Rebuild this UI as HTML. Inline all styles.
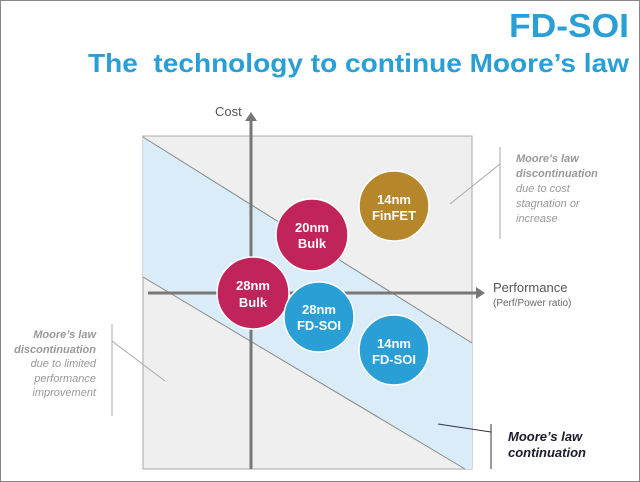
<!DOCTYPE html>
<html><head><meta charset="utf-8"><style>
html,body{margin:0;padding:0;background:#fff}
svg{display:block}
</style></head><body>
<svg width="640" height="482" viewBox="0 0 640 482" xmlns="http://www.w3.org/2000/svg" font-family="Liberation Sans, Arial, sans-serif">
<rect x="0.5" y="0.5" width="639" height="481" fill="#fff" stroke="#888" stroke-width="1"/>
<text x="629" y="37" text-anchor="end" font-size="33" font-weight="bold" fill="#2a9fd6" textLength="120" lengthAdjust="spacingAndGlyphs">FD-SOI</text>
<text x="88" y="72" font-size="26" font-weight="bold" fill="#2a9fd6" textLength="541" lengthAdjust="spacingAndGlyphs" xml:space="preserve">The  technology to continue Moore’s law</text>

<rect x="143" y="136" width="329" height="333" fill="#efefef" stroke="#aaa" stroke-width="1"/>
<polygon points="143,137 472,343 472,469 465,469 143,277" fill="#d9ecf8"/>
<line x1="143" y1="137" x2="472" y2="343" stroke="#888" stroke-width="1"/>
<line x1="143" y1="277" x2="465" y2="469" stroke="#888" stroke-width="1"/>

<line x1="251" y1="120" x2="251" y2="469" stroke="#777" stroke-width="3"/>
<polygon points="245,121 257,121 251,112" fill="#777"/>
<line x1="148" y1="293" x2="476" y2="293" stroke="#777" stroke-width="3"/>
<polygon points="476,287 476,299 485,293" fill="#777"/>
<text x="215" y="116" font-size="13" fill="#555">Cost</text>
<text x="493" y="292" font-size="13" fill="#555">Performance</text>
<text x="493" y="306" font-size="10" fill="#666">(Perf/Power ratio)</text>

<g stroke="#fff" stroke-width="1.5">
<circle cx="394" cy="206" r="35" fill="#b5862a"/>
<circle cx="312" cy="235" r="36" fill="#c0245a"/>
<circle cx="253" cy="293" r="36" fill="#c0245a"/>
<circle cx="319" cy="317" r="35" fill="#2a9fd6"/>
<circle cx="394" cy="350" r="35" fill="#2a9fd6"/>
</g>
<g font-size="13" font-weight="bold" fill="#fff" text-anchor="middle">
<text x="394" y="204">14nm</text><text x="394" y="220">FinFET</text>
<text x="312" y="232">20nm</text><text x="312" y="248">Bulk</text>
<text x="253" y="290">28nm</text><text x="253" y="307">Bulk</text>
<text x="319" y="314">28nm</text><text x="319" y="330">FD-SOI</text>
<text x="394" y="348">14nm</text><text x="394" y="364">FD-SOI</text>
</g>

<g stroke="#aaa" stroke-width="1">
<line x1="500" y1="147" x2="500" y2="239"/>
<line x1="450" y1="204" x2="500" y2="164"/>
<line x1="112" y1="324" x2="112" y2="416"/>
<line x1="112" y1="341" x2="165" y2="381"/>
</g>
<g stroke="#334" stroke-width="1">
<line x1="438" y1="424" x2="491" y2="432"/>
<line x1="491" y1="424" x2="491" y2="469"/>
</g>

<g font-size="11" font-style="italic" fill="#999">
<text x="516" y="162" font-weight="bold">Moore’s law</text>
<text x="516" y="177" font-weight="bold">discontinuation</text>
<text x="516" y="192">due to cost</text>
<text x="516" y="207">stagnation or</text>
<text x="516" y="222">increase</text>
</g>
<g font-size="11" font-style="italic" fill="#999" text-anchor="end">
<text x="96" y="338" font-weight="bold">Moore’s law</text>
<text x="96" y="353" font-weight="bold">discontinuation</text>
<text x="96" y="367">due to limited</text>
<text x="96" y="382">performance</text>
<text x="96" y="396">improvement</text>
</g>
<g font-size="13" font-style="italic" font-weight="bold" fill="#1a1a2a">
<text x="508" y="441">Moore’s law</text>
<text x="508" y="457">continuation</text>
</g>
</svg>
</body></html>
